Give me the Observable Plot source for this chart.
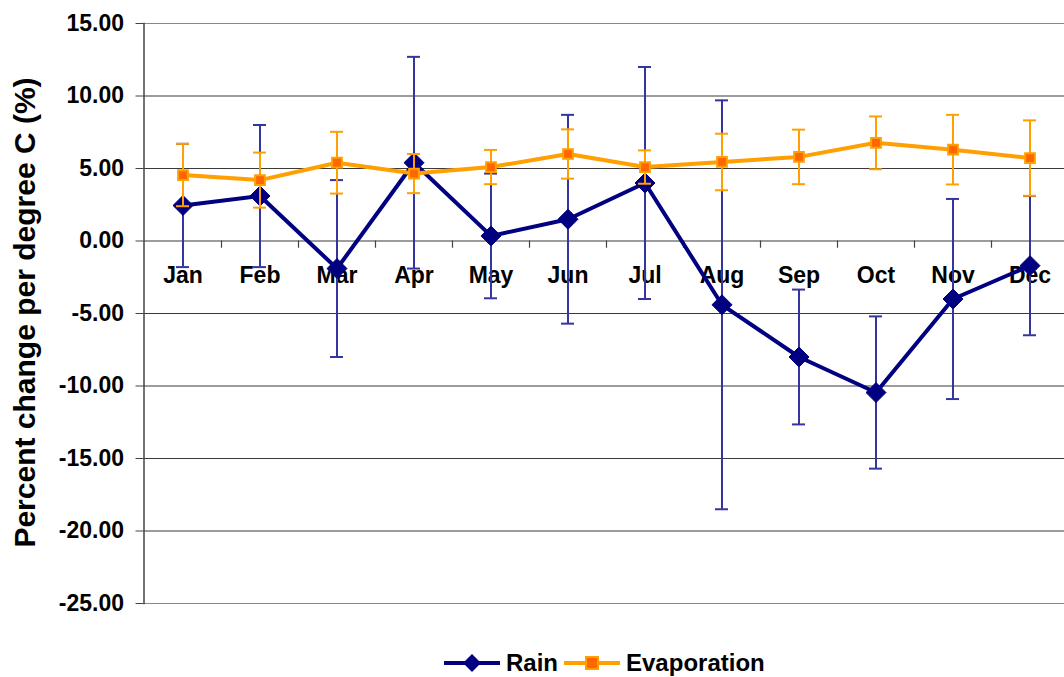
<!DOCTYPE html>
<html>
<head>
<meta charset="utf-8">
<script src="https://cdn.jsdelivr.net/npm/d3@7"></script>
<script src="https://cdn.jsdelivr.net/npm/@observablehq/plot@0.6"></script>
<style>
  body { margin: 0; background: white; overflow: hidden; font-family: "Liberation Sans", Arial, sans-serif; }
  #legend { box-sizing: border-box; display: flex; align-items: center; height: 36px; padding-top: 10px; padding-left: 444px; font-weight: bold; font-size: 24px; line-height: 1; }
  #legend span { margin-left: 6px; margin-right: 6px; }
  #legend svg { display: block; }
</style>
</head>
<body>
<div id="chart"></div>
<div id="legend"></div>
<script>
const months = ["Jan", "Feb", "Mar", "Apr", "May", "Jun", "Jul", "Aug", "Sep", "Oct", "Nov", "Dec"];
const rain = [2.45, 3.1, -1.9, 5.4, 0.35, 1.5, 4.0, -4.4, -8.0, -10.45, -4.0, -1.7];
const rainErr = [4.25, 4.9, 6.1, 7.3, 4.3, 7.2, 8.0, 14.1, 4.65, 5.25, 6.9, 4.8];
const evap = [4.55, 4.2, 5.4, 4.65, 5.1, 6.0, 5.1, 5.45, 5.8, 6.77, 6.3, 5.72];
const evapErr = [2.15, 1.9, 2.13, 1.35, 1.18, 1.7, 1.15, 1.95, 1.88, 1.82, 2.4, 2.6];
const yTicks = [15, 10, 5, 0, -5, -10, -15, -20, -25];

const rainData = months.map((m, i) => ({month: m, value: rain[i], err: rainErr[i]}));
const evapData = months.map((m, i) => ({month: m, value: evap[i], err: evapErr[i]}));

const navy = "#000080";
const navyBar = "#3535a0";
const orange = "#ffa000";

const chart = Plot.plot({
  width: 1064,
  height: 640,
  marginLeft: 143.5,
  marginRight: -4,
  marginTop: 23,
  marginBottom: 37,
  style: {fontFamily: "'Liberation Sans', Arial, sans-serif", background: "white", color: "black"},
  x: {type: "band", domain: months, padding: 0, axis: null},
  y: {domain: [-25, 15]},
  marks: [
    Plot.ruleY(yTicks, {stroke: d => (d === 15 || d === -25) ? "#888" : "#3a3a3a", strokeWidth: 1.2}),
    Plot.frame({anchor: "left", stroke: "#444", strokeWidth: 1.5}),
    Plot.axisY({
      ticks: yTicks, tickFormat: d => d.toFixed(2), tickSize: 8, tickPadding: 12,
      fontSize: 23, fontWeight: "bold", label: null, stroke: "#444"
    }),
    Plot.text(["Percent change per degree C (%)"], {
      frameAnchor: "left", textAnchor: "middle", lineAnchor: "middle", dx: -119, dy: -1, rotate: -90,
      fontSize: 30, fontWeight: "bold", fill: "black"
    }),
    Plot.ruleX(months, {x: d => d, dx: 38.5, y1: 0, y2: -0.5, stroke: "#444", strokeWidth: 1.2}),
    Plot.text(months, {x: d => d, y: 0, dy: 35, text: d => d, fontSize: 23, fontWeight: "bold", fill: "black"}),
    // Rain
    Plot.ruleX(rainData, {x: "month", y1: d => d.value - d.err, y2: d => d.value + d.err, stroke: navyBar, strokeWidth: 2}),
    Plot.tickY(rainData, {x: "month", y: d => d.value - d.err, insetLeft: 32, insetRight: 32, stroke: navyBar, strokeWidth: 2}),
    Plot.tickY(rainData, {x: "month", y: d => d.value + d.err, insetLeft: 32, insetRight: 32, stroke: navyBar, strokeWidth: 2}),
    Plot.line(rainData, {x: "month", y: "value", stroke: navy, strokeWidth: 4}),
    Plot.dot(rainData, {x: "month", y: "value", symbol: "diamond2", r: 9, fill: navy, stroke: navy, strokeWidth: 1}),
    // Evaporation
    Plot.ruleX(evapData, {x: "month", y1: d => d.value - d.err, y2: d => d.value + d.err, stroke: orange, strokeWidth: 2}),
    Plot.tickY(evapData, {x: "month", y: d => d.value - d.err, insetLeft: 32, insetRight: 32, stroke: orange, strokeWidth: 2}),
    Plot.tickY(evapData, {x: "month", y: d => d.value + d.err, insetLeft: 32, insetRight: 32, stroke: orange, strokeWidth: 2}),
    Plot.line(evapData, {x: "month", y: "value", stroke: orange, strokeWidth: 4}),
    Plot.dot(evapData, {x: "month", y: "value", symbol: "square", r: 5.5, fill: "#ff6600", stroke: orange, strokeWidth: 2})
  ]
});

document.getElementById("chart").appendChild(chart);

// legend
const legend = document.getElementById("legend");
legend.innerHTML = `
  <svg width="56" height="20"><line x1="0" y1="10" x2="56" y2="10" stroke="${navy}" stroke-width="4"/>
    <path d="M28,1 L37,10 L28,19 L19,10 Z" fill="${navy}"/></svg>
  <span>Rain</span>
  <svg width="56" height="20"><line x1="0" y1="10" x2="56" y2="10" stroke="${orange}" stroke-width="4"/>
    <rect x="22" y="4" width="12" height="12" fill="#ff6600" stroke="${orange}" stroke-width="2"/></svg>
  <span>Evaporation</span>`;
</script>
</body>
</html>
